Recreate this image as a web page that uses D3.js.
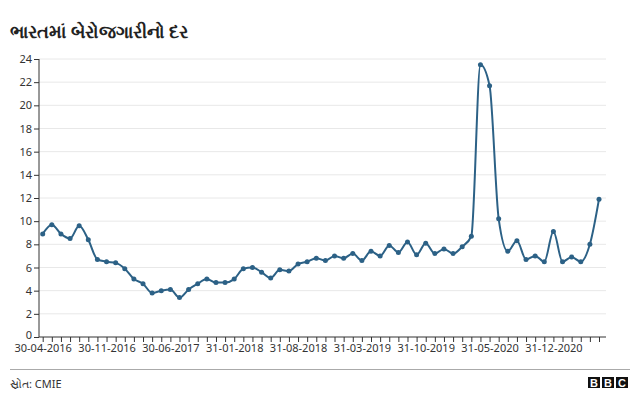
<!DOCTYPE html>
<html>
<head>
<meta charset="utf-8">
<script src="https://cdn.jsdelivr.net/npm/d3@7"></script>
<style>
  body { margin: 0; background: #fff; font-family: "Noto Sans", "Open Sans", sans-serif; }
  .grid line { stroke: #e8e8e8; }
  .axis text { fill: #333; font-size: 11px; font-family: "Noto Sans", "Open Sans", sans-serif; }
  .axis path, .axis line { stroke: #333; }
</style>
</head>
<body>
<div id="app"></div>
<script>
const w = 640;
const h = 395;

// monthly, 30-04-2016 .. 31-05-2021
const rates = [
  8.9, 9.7, 8.9, 8.5, 9.6, 8.4, 6.7, 6.5, 6.4, 5.9, 5.0, 4.6,
  3.8, 4.0, 4.1, 3.4, 4.1, 4.6, 5.0, 4.7, 4.7, 5.0, 5.9, 6.0,
  5.6, 5.1, 5.8, 5.7, 6.3, 6.5, 6.8, 6.6, 7.0, 6.8, 7.2, 6.6,
  7.4, 7.0, 7.9, 7.3, 8.2, 7.1, 8.1, 7.2, 7.6, 7.2, 7.8, 8.7,
  23.5, 21.7, 10.2, 7.4, 8.3, 6.7, 7.0, 6.5, 9.1, 6.5, 6.9, 6.5,
  8.0, 11.9
];
const yTicks = [0, 2, 4, 6, 8, 10, 12, 14, 16, 18, 20, 22, 24];
const xLabels = ["30-04-2016", "30-11-2016", "30-06-2017", "31-01-2018", "31-08-2018",
  "31-03-2019", "31-10-2019", "31-05-2020", "31-12-2020"];

const title = "ભારતમાં બેરોજગારીનો દર";
const source = "સ્રોત: CMIE";

const svg = d3.select('#app')
  .append('svg')
  .attr('width', w)
  .attr('height', h);

svg.append('text')
  .attr('x', 10)
  .attr('y', 38)
  .attr('font-size', 18)
  .attr('font-weight', 'bold')
  .attr('fill', '#222')
  .text(title);

const x = d3.scaleLinear().domain([0, rates.length - 1]).range([42.7, 599]);
const y = d3.scaleLinear().domain([0, 24]).range([337, 59]);

//////////GRID//////////

svg.append('g')
  .attr('class', 'grid')
  .selectAll('line')
  .data(yTicks.slice(1))
  .join('line')
  .attr('x1', 39)
  .attr('x2', 606)
  .attr('y1', (d) => y(d))
  .attr('y2', (d) => y(d));

//////////AXES//////////

const yAxis = svg.append('g')
  .attr('class', 'axis')
  .attr('transform', 'translate(39,0)')
  .call(d3.axisLeft(y).tickValues(yTicks).tickSize(5).tickPadding(2));

yAxis.select('.domain').attr('d', `M0,${y(24)}V${y(0)}`);
// the zero label sits a touch higher, clear of the date labels
yAxis.selectAll('.tick text').filter((d) => d === 0).attr('dy', '0.1em');

const xAxis = svg.append('g')
  .attr('class', 'axis')
  .attr('transform', `translate(0,${y(0)})`)
  .call(d3.axisBottom(x)
    .tickValues(d3.range(rates.length))
    .tickSize(5)
    .tickPadding(2)
    .tickFormat((i) => i % 7 === 0 ? xLabels[i / 7] : ''));

xAxis.select('.domain').attr('d', `M39,0H606`);

//////////LINE//////////

const line = d3.line()
  .x((d, i) => x(i))
  .y((d) => y(d))
  .curve(d3.curveMonotoneX);

svg.append('path')
  .datum(rates)
  .attr('fill', 'none')
  .attr('stroke', '#2c6186')
  .attr('stroke-width', 2)
  .attr('d', line);

svg.append('g')
  .selectAll('circle')
  .data(rates)
  .join('circle')
  .attr('cx', (d, i) => x(i))
  .attr('cy', (d) => y(d))
  .attr('r', 2.5)
  .attr('fill', '#2c6186');

//////////FOOTER//////////

svg.append('line')
  .attr('x1', 10)
  .attr('x2', 630)
  .attr('y1', 369.5)
  .attr('y2', 369.5)
  .attr('stroke', '#aaa');

svg.append('text')
  .attr('x', 10)
  .attr('y', 388)
  .attr('font-size', 11)
  .attr('fill', '#333')
  .text(source);

const logo = svg.append('g').attr('transform', 'translate(588,377)');
['B', 'B', 'C'].forEach((ch, i) => {
  logo.append('rect')
    .attr('x', i * 14)
    .attr('width', 12)
    .attr('height', 11)
    .attr('fill', '#111');
  logo.append('text')
    .attr('x', i * 14 + 6)
    .attr('y', 9.5)
    .attr('text-anchor', 'middle')
    .attr('font-size', 11)
    .attr('font-weight', 'bold')
    .attr('font-family', 'Liberation Sans, Arial, sans-serif')
    .attr('fill', '#fff')
    .text(ch);
});
</script>
</body>
</html>
